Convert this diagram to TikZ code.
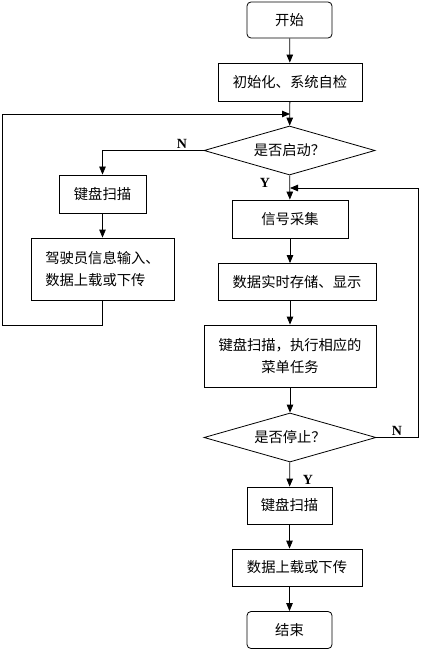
\documentclass[tikz,border=0pt]{standalone}
\usepackage{fontspec}
\setmainfont{Liberation Serif}
\newfontfamily\cjk{Noto Sans CJK SC}
\usetikzlibrary{shapes.geometric,arrows.meta}
\begin{document}
\begin{tikzpicture}[x=1pt,y=-1pt,
  line/.style={draw,line width=0.8pt},
  arr/.style={line,-{Triangle[length=8pt,width=6.5pt]}},
  box/.style={draw,line width=0.8pt,rectangle,inner sep=2pt,font=\cjk\fontsize{14.3}{22}\selectfont},
  term/.style={box,rounded corners=4pt},
  test/.style={draw,line width=0.8pt,diamond,aspect=3.5,inner sep=0pt,font=\cjk\fontsize{14.3}{17}\selectfont},
  yn/.style={font=\bfseries\fontsize{14}{14}\selectfont}]
\useasboundingbox (0,0) rectangle (422,652);
\node[term, minimum width=85, minimum height=36] (1) at (289.5,20) {开始};
\node[box, minimum width=144, minimum height=38] (2) at (290,82) {初始化、系统自检};
\node[test, minimum width=171, minimum height=49] (3) at (289.5,150.5) {是否启动？};
\node[box, minimum width=87, minimum height=38] (4) at (102.5,194) {键盘扫描};
\node[box, minimum width=143, minimum height=62, align=left] (5) at (102.5,269) {驾驶员信息输入、\\数据上载或下传};
\node[box, minimum width=116, minimum height=38] (6) at (290,219) {信号采集};
\node[box, minimum width=158, minimum height=37] (7) at (297,282) {数据实时存储、显示};
\node[box, minimum width=172, minimum height=62, align=center] (8) at (290,356) {键盘扫描，执行相应的\\菜单任务};
\node[test, minimum width=172, minimum height=49] (9) at (290,437.5) {是否停止？};
\node[box, minimum width=85, minimum height=37] (10) at (289.5,505.5) {键盘扫描};
\node[box, minimum width=130, minimum height=37] (11) at (297,567.5) {数据上载或下传};
\node[term, minimum width=85, minimum height=37] (12) at (289.5,630) {结束};
\coordinate (j1) at (290,114);
\coordinate (c1) at (2,325);
\coordinate (j2) at (290,188);
\coordinate (c2) at (418,188);
\node[yn] (n1) at (182,144) {N};
\node[yn] (y1) at (265,183) {Y};
\node[yn] (n2) at (397,431) {N};
\node[yn] (y2) at (308,480) {Y};
\path[arr] (1) -- (2);
\path[arr] (2) -- (3);
\path[arr] (3.west) -| (4.north);
\path[arr] (4) -- (5);
\path[arr] (5.south) |- (c1) |- (j1);
\path[arr] (3) -- (6);
\path[arr] (6.south) -- (6.south |- 7.north);
\path[arr] (8.north |- 7.south) -- (8.north);
\path[arr] (8) -- (9);
\path[arr] (9.east) -| (c2) -- (j2);
\path[arr] (9) -- (10);
\path[arr] (10.south) -- (10.south |- 11.north);
\path[arr] (12.north |- 11.south) -- (12.north);
\end{tikzpicture}
\end{document}
